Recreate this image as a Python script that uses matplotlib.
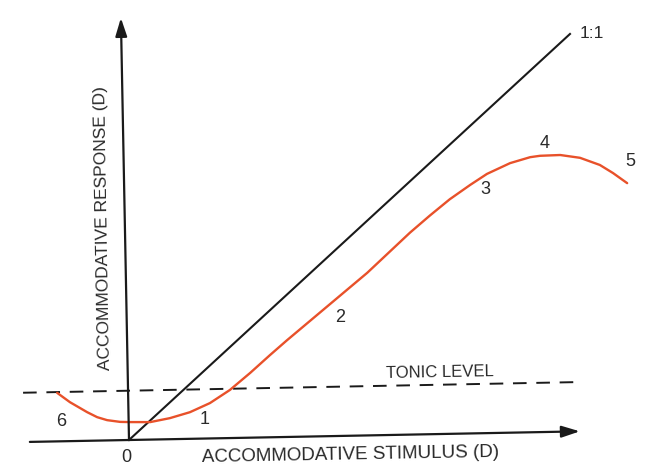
import matplotlib
matplotlib.use("Agg")
import matplotlib.pyplot as plt
from matplotlib.transforms import Affine2D

# Data (diopters, schematic)
stimulus = [-1.58, -1.30, -0.92, -0.70, -0.48, -0.19, 0.03, 0.48, 0.92, 1.37,
            1.82, 2.27, 2.73, 3.18, 3.56, 5.38, 6.35, 6.80, 7.25, 7.71,
            8.09, 8.61, 9.06, 9.28, 9.73, 10.17, 10.61, 10.90, 11.21]
response = [1.22, 0.98, 0.72, 0.59, 0.51, 0.46, 0.45, 0.44, 0.53, 0.67,
            0.89, 1.21, 1.63, 2.07, 2.43, 4.09, 5.08, 5.50, 5.90, 6.25,
            6.52, 6.78, 6.92, 6.95, 6.96, 6.88, 6.69, 6.48, 6.22]
one_to_one = [0.0, 10.0]
tonic_level = 1.24
tonic_x = [-2.34, 10.01]
x_axis_range = [-2.21, 10.05]
y_axis_range = [0.0, 10.62]

zone_labels = ["1", "2", "3", "4", "5", "6"]

fig = plt.figure(figsize=(6.6, 4.66), dpi=100)
ax = fig.add_axes([0, 0, 1, 1])
ax.set_xlim(0, 660)
ax.set_ylim(0, 466)
ax.axis("off")

# schematic frame: scale (px per D), slight scan rotation, origin placement
tr = Affine2D().scale(44.87, 39.75).rotate_deg(1.1).translate(129, 26) + ax.transData

black = "#1a1a1a"
red = "#e8512a"

# axes with arrows
ax.annotate("", xy=(x_axis_range[1], 0), xytext=(x_axis_range[0], 0),
            xycoords=tr, textcoords=tr,
            arrowprops=dict(arrowstyle="-|>,head_length=1.1,head_width=0.35",
                            lw=1.6, color=black, shrinkA=0, shrinkB=0))
ax.annotate("", xy=(0, y_axis_range[1]), xytext=(0, y_axis_range[0]),
            xycoords=tr, textcoords=tr,
            arrowprops=dict(arrowstyle="-|>,head_length=1.1,head_width=0.35",
                            lw=1.6, color=black, shrinkA=0, shrinkB=0))

# 1:1 line
ax.plot(one_to_one, one_to_one, color=black, lw=1.5, transform=tr)

# tonic level
ax.plot(tonic_x, [tonic_level, tonic_level], color=black, lw=1.4,
        dashes=(7, 5), transform=tr)

# response curve
ax.plot(stimulus, response, color=red, lw=1.7, transform=tr,
        solid_capstyle="round", solid_joinstyle="round")

font = "Liberation Sans"
H = 466
tc = "#2a2a2a"
ax.text(350, H - 455, "ACCOMMODATIVE STIMULUS (D)", ha="center", va="center",
        fontsize=13.5, family=font, color=tc, rotation=1)
ax.text(126, H - 457, "0", ha="center", va="center", fontsize=13,
        family=font, color=tc)
ax.text(103, H - 228, "ACCOMMODATIVE RESPONSE (D)", ha="center", va="center",
        fontsize=12.5, family=font, color=tc, rotation=91)
ax.text(440, H - 373, "TONIC LEVEL", ha="center", va="center",
        fontsize=12, family=font, color=tc, rotation=1)
ax.text(592, H - 33, "1:1", ha="center", va="center", fontsize=12.5,
        family=font, color=tc)

label_px = [(205, 419), (340, 317), (485, 190), (545, 143), (630, 161), (61, 422)]
for lab, (px, py) in zip(zone_labels, label_px):
    ax.text(px, H - py, lab, ha="center", va="center", fontsize=13,
            family=font, color=tc)

fig.savefig("out.png", dpi=100, facecolor="white")
